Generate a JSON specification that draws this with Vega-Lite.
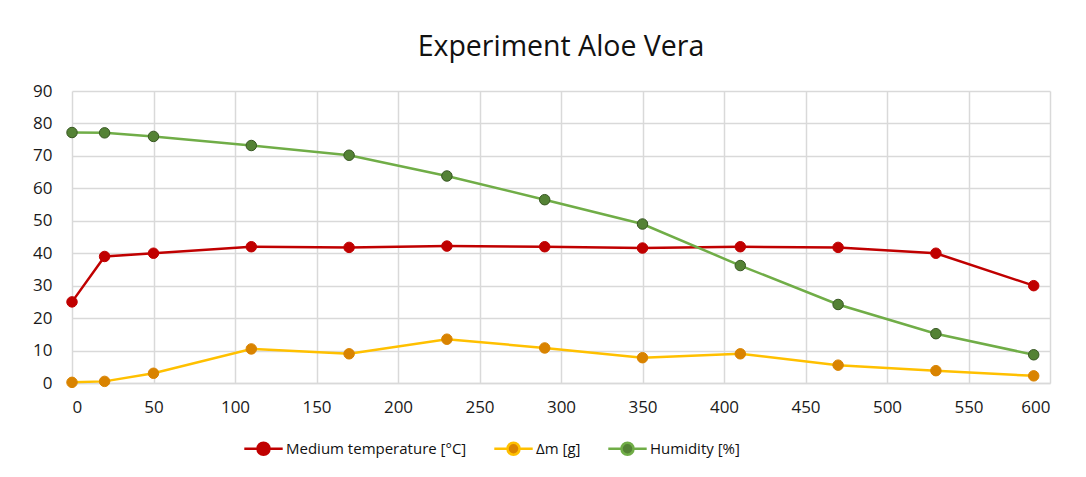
{
  "$schema": "https://vega.github.io/schema/vega-lite/v6.json",
  "width": 978,
  "height": 292,
  "autosize": "none",
  "padding": {"left": 72, "top": 91, "right": 36, "bottom": 94},
  "background": "white",
  "title": {"text": "Experiment Aloe Vera", "font": "Open Sans", "fontSize": 28.5, "fontWeight": "normal", "color": "#111111", "anchor": "middle", "frame": "group", "offset": 21},
  "config": {
    "view": {"stroke": null},
    "axis": {"labelFont": "Open Sans", "labelFontSize": 17, "labelColor": "#1a1a1a", "grid": true, "gridColor": "#d9d9d9", "gridWidth": 1.5, "domainColor": "#d9d9d9", "domainWidth": 1.5, "ticks": false, "title": null}
  },
  "data": {"values": [
    {"t": 0, "series": "Medium temperature [°C]", "value": 25},
    {"t": 20, "series": "Medium temperature [°C]", "value": 39},
    {"t": 50, "series": "Medium temperature [°C]", "value": 40},
    {"t": 110, "series": "Medium temperature [°C]", "value": 42},
    {"t": 170, "series": "Medium temperature [°C]", "value": 41.8},
    {"t": 230, "series": "Medium temperature [°C]", "value": 42.2},
    {"t": 290, "series": "Medium temperature [°C]", "value": 42},
    {"t": 350, "series": "Medium temperature [°C]", "value": 41.6},
    {"t": 410, "series": "Medium temperature [°C]", "value": 42},
    {"t": 470, "series": "Medium temperature [°C]", "value": 41.8},
    {"t": 530, "series": "Medium temperature [°C]", "value": 40},
    {"t": 590, "series": "Medium temperature [°C]", "value": 30},
    {"t": 0, "series": "Δm [g]", "value": 0.2},
    {"t": 20, "series": "Δm [g]", "value": 0.5},
    {"t": 50, "series": "Δm [g]", "value": 3},
    {"t": 110, "series": "Δm [g]", "value": 10.5},
    {"t": 170, "series": "Δm [g]", "value": 9},
    {"t": 230, "series": "Δm [g]", "value": 13.5},
    {"t": 290, "series": "Δm [g]", "value": 10.8},
    {"t": 350, "series": "Δm [g]", "value": 7.8},
    {"t": 410, "series": "Δm [g]", "value": 9},
    {"t": 470, "series": "Δm [g]", "value": 5.5},
    {"t": 530, "series": "Δm [g]", "value": 3.8},
    {"t": 590, "series": "Δm [g]", "value": 2.2},
    {"t": 0, "series": "Humidity [%]", "value": 77.2},
    {"t": 20, "series": "Humidity [%]", "value": 77.1},
    {"t": 50, "series": "Humidity [%]", "value": 76},
    {"t": 110, "series": "Humidity [%]", "value": 73.2},
    {"t": 170, "series": "Humidity [%]", "value": 70.2},
    {"t": 230, "series": "Humidity [%]", "value": 63.8},
    {"t": 290, "series": "Humidity [%]", "value": 56.5},
    {"t": 350, "series": "Humidity [%]", "value": 49},
    {"t": 410, "series": "Humidity [%]", "value": 36.2},
    {"t": 470, "series": "Humidity [%]", "value": 24.2},
    {"t": 530, "series": "Humidity [%]", "value": 15.2},
    {"t": 590, "series": "Humidity [%]", "value": 8.7}
  ]},
  "encoding": {
    "x": {"field": "t", "type": "quantitative", "scale": {"domain": [0, 600], "nice": false}, "axis": {"values": [0, 50, 100, 150, 200, 250, 300, 350, 400, 450, 500, 550, 600], "labelPadding": 16}},
    "y": {"field": "value", "type": "quantitative", "scale": {"domain": [0, 90], "nice": false}, "axis": {"values": [0, 10, 20, 30, 40, 50, 60, 70, 80, 90], "labelPadding": 20, "domain": false}}
  },
  "resolve": {"scale": {"stroke": "independent"}},
  "layer": [
    {
      "mark": {"type": "line", "interpolate": "linear", "strokeWidth": 2.5},
      "encoding": {
        "stroke": {"field": "series", "type": "nominal", "sort": null,
          "scale": {"domain": ["Medium temperature [°C]", "Δm [g]", "Humidity [%]"], "range": ["#C00000", "#FFC000", "#70AD47"]},
          "legend": {"title": null, "orient": "none", "direction": "horizontal", "legendX": 184, "legendY": 350,
            "labelFont": "Open Sans", "labelFontSize": 15, "labelColor": "#111111", "labelOffset": 15, "columnPadding": 22, "labelLimit": 400,
            "symbolType": "M-3.2,0H-1M1,0H3.2M1,0A1,1 0 1,1 -1,0A1,1 0 1,1 1,0Z", "symbolSize": 144, "symbolStrokeWidth": 2.5, "symbolOpacity": 1,
            "encode": {"symbols": {"update": {"fill": {"scale": "fill", "field": "value"}, "fillOpacity": {"value": 1}}}}}
        }
      }
    },
    {
      "mark": {"type": "point", "filled": true, "size": 110, "opacity": 1, "strokeWidth": 1},
      "encoding": {
        "fill": {"field": "series", "type": "nominal", "sort": null,
          "scale": {"domain": ["Medium temperature [°C]", "Δm [g]", "Humidity [%]"], "range": ["#C00000", "#D98300", "#548235"]}, "legend": null},
        "stroke": {"field": "series", "type": "nominal", "sort": null,
          "scale": {"domain": ["Medium temperature [°C]", "Δm [g]", "Humidity [%]"], "range": ["#C00000", "#D98300", "#385723"]}, "legend": null}
      }
    }
  ]
}
